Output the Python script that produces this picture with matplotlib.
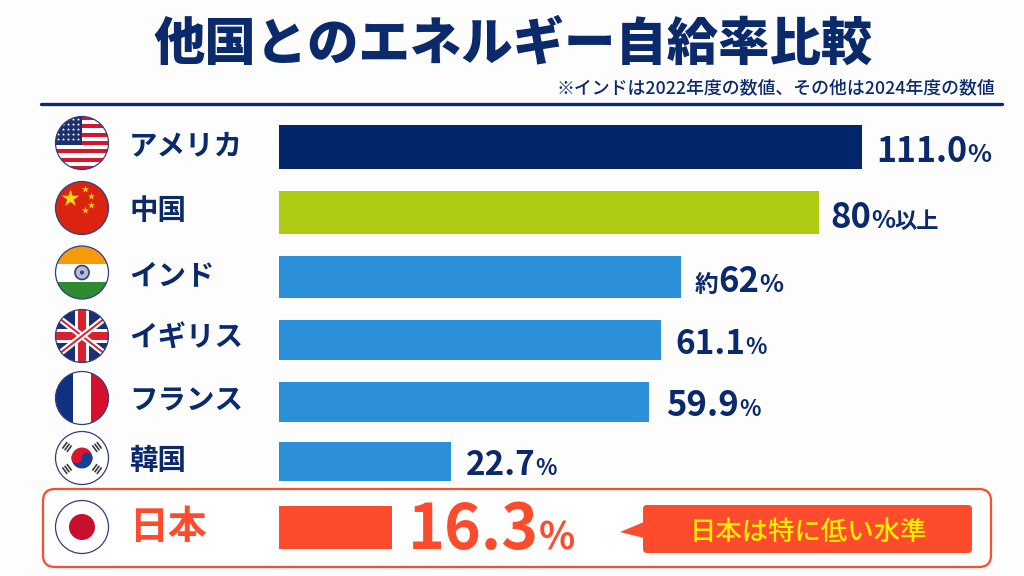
import numpy as np
import matplotlib
matplotlib.use('Agg')
import matplotlib.pyplot as plt
from matplotlib.patches import Circle, Rectangle, FancyBboxPatch, Polygon, Wedge

plt.rcParams['font.family'] = ['Noto Sans CJK JP', 'DejaVu Sans']

NAVY = '#0b2a6b'
BAR_NAVY = '#03266b'
GREEN = '#aecb12'
BLUE = '#2b90d9'
RED = '#fd4b2d'

title = '他国とのエネルギー自給率比較'
note = '※インドは2022年度の数値、その他は2024年度の数値'
countries = ['アメリカ', '中国', 'インド', 'イギリス', 'フランス', '韓国', '日本']
# bar lengths as drawn: the picture is not to scale with its labels (111.0 = 111)
bar_lengths = [111.0, 102.9, 76.6, 72.8, 70.5, 32.8, 21.5]
bar_colors = [BAR_NAVY, GREEN, BLUE, BLUE, BLUE, BLUE, RED]
value_labels = [
    [('111.0', 24.5), ('%', 18)],
    [('80', 25), ('%', 18), ('以上', 16)],
    [('約', 17), ('62', 25), ('%', 18)],
    [('61.1', 24), ('%', 16)],
    [('59.9', 25), ('%', 16)],
    [('22.7', 24), ('%', 16)],
    [('16.3', 45), ('%', 27)],
]
callout = '日本は特に低い水準'

row_y = [147, 212.5, 277, 340, 402, 461.5, 527.5]
row_h = [44, 43, 42, 40, 40, 39, 43]
flag_y = [143, 208, 272.5, 336, 398, 458, 527]
label_x = [876, 830, 695, 675, 666, 466, 408]
label_base = [162, 228, 292, 354, 416, 475, 549]

fig = plt.figure(figsize=(10.24, 5.76), dpi=100, facecolor='#fdfdfe')
bg = fig.add_axes([0, 0, 1, 1])
bg.set_xlim(0, 1024)
bg.set_ylim(576, 0)
bg.axis('off')


def flag_base(cy, r=26.5):
    return Circle((82, cy), r, transform=bg.transData, fc='none', ec='none')


def clipped(artist, clip):
    bg.add_artist(artist)
    artist.set_clip_path(clip)
    return artist


def ring(cy, r=26.5):
    bg.add_patch(Circle((82, cy), r, fc='none', ec='#2f3f7f', lw=0.9, zorder=6))


def usa(cy):
    clip = flag_base(cy)
    bg.add_patch(Circle((82, cy), 26.5, fc='white', ec='none'))
    for i in range(13):
        if i % 2 == 0:
            clipped(Rectangle((50, cy - 27 + i * 54 / 13), 64, 54 / 13, fc='#d3172f'), clip)
    clipped(Rectangle((50, cy - 27), 32, 29, fc='#1c2f6e'), clip)
    xs, ys = np.meshgrid(np.arange(58, 82, 5), np.arange(cy - 24, cy + 1, 5))
    clipped(bg.scatter(xs.ravel(), ys.ravel(), s=4, c='white', marker='*', lw=0), clip)
    ring(cy)


def china(cy):
    bg.add_patch(Circle((82, cy), 26.5, fc='#db2410', ec='none'))
    bg.scatter([70], [cy - 10], s=170, c='#fbd90a', marker='*', lw=0, zorder=3)
    bg.scatter([85, 91, 91, 85], [cy - 19, cy - 12, cy - 3, cy + 2], s=28, c='#fbd90a', marker='*', lw=0, zorder=3)
    ring(cy)


def india(cy):
    clip = flag_base(cy)
    clipped(Rectangle((50, cy - 27), 64, 18, fc='#f79a0b'), clip)
    clipped(Rectangle((50, cy - 9), 64, 18, fc='white'), clip)
    clipped(Rectangle((50, cy + 9), 64, 18, fc='#2e8b2f'), clip)
    bg.add_patch(Circle((82, cy), 7, fc='#b8bcd8', ec='#2f3f7f', lw=1.2, zorder=3))
    bg.add_patch(Circle((82, cy), 2, fc='#2f3f7f', ec='none', zorder=3))
    ring(cy)


def uk(cy):
    clip = flag_base(cy)
    bg.add_patch(Circle((82, cy), 26.5, fc='#1c2f76', ec='none'))
    for sign in (1, -1):
        line, = bg.plot([50, 114], [cy - 25 * sign, cy + 25 * sign], color='white', lw=4.5, solid_capstyle='butt')
        line.set_clip_path(clip)
        line, = bg.plot([50, 114], [cy - 25 * sign, cy + 25 * sign], color='#d8202f', lw=1.4, solid_capstyle='butt')
        line.set_clip_path(clip)
    clipped(Rectangle((50, cy - 7), 64, 14, fc='white'), clip)
    clipped(Rectangle((75, cy - 27), 14, 54, fc='white'), clip)
    clipped(Rectangle((50, cy - 4), 64, 8, fc='#d8202f'), clip)
    clipped(Rectangle((78, cy - 27), 8, 54, fc='#d8202f'), clip)
    ring(cy)


def france(cy):
    clip = flag_base(cy)
    clipped(Rectangle((50, cy - 27), 23, 54, fc='#11307f'), clip)
    clipped(Rectangle((73, cy - 27), 18, 54, fc='white'), clip)
    clipped(Rectangle((91, cy - 27), 23, 54, fc='#d80f2c'), clip)
    ring(cy)


def korea(cy):
    bg.add_patch(Circle((82, cy), 26.5, fc='white', ec='none'))
    bg.add_patch(Wedge((82, cy), 10.5, 180, 360, fc='#d6172f', ec='none', zorder=3))
    bg.add_patch(Wedge((82, cy), 10.5, 0, 180, fc='#17409a', ec='none', zorder=3))
    bg.add_patch(Circle((76.7, cy), 5.3, fc='#d6172f', ec='none', zorder=3))
    bg.add_patch(Circle((87.3, cy), 5.3, fc='#17409a', ec='none', zorder=3))
    for dx, dy in [(-15, -11), (15, -11), (-15, 11), (15, 11)]:
        for k in (-2.8, 0, 2.8):
            ux, uy = dx / 18.6, dy / 18.6
            cx, cyy = 82 + dx + ux * k, cy + dy + uy * k
            px, py = -uy * 4, ux * 4
            bg.plot([cx - px, cx + px], [cyy - py, cyy + py], color='#3a3a3a', lw=1.2, solid_capstyle='butt', zorder=3)
    ring(cy)


def japan(cy):
    bg.add_patch(Circle((82, cy), 26.5, fc='white', ec='none'))
    bg.add_patch(Circle((82, cy), 13, fc='#c8102e', ec='none', zorder=3))
    ring(cy)


def text_run(x, y, runs, color):
    # pieces of one label set one after the other, each at its own size
    renderer = fig.canvas.get_renderer()
    for s, size in runs:
        t = bg.text(x, y, s, fontsize=size, fontweight='bold', color=color, ha='left', va='baseline', zorder=8)
        x += t.get_window_extent(renderer).width


bg.text(513, 44, title, fontsize=37, fontweight='black', color=NAVY, ha='center', va='center')
bg.text(995, 88, note, fontsize=12.9, fontweight='medium', color=NAVY, ha='right', va='center')
bg.plot([41, 1002], [103.5, 103.5], color=NAVY, lw=2.4, solid_capstyle='round')

# frame round Japan
bg.add_patch(FancyBboxPatch((53, 499), 928, 58, boxstyle='round,pad=10,rounding_size=12', fc='white', ec=RED, lw=1.6, zorder=1))

for draw, cy in zip([usa, china, india, uk, france, korea, japan], flag_y):
    draw(cy)

for i, name in enumerate(countries):
    last = i == len(countries) - 1
    bg.text(129, row_y[i] - (0 if last else 1), name,
            fontsize=28 if last else 20.5, fontweight='bold',
            color=RED if last else NAVY, ha='left', va='center', zorder=8)
    text_run(label_x[i], label_base[i], value_labels[i], RED if last else NAVY)

# callout next to the Japan row
bg.add_patch(FancyBboxPatch((646, 508), 323, 42, boxstyle='round,pad=3,rounding_size=4', fc=RED, ec='none', zorder=3))
bg.add_patch(Polygon([(620, 532), (644, 522), (644, 538)], fc=RED, ec='none', zorder=3))
bg.text(808, 532.5, callout, fontsize=19, fontweight='medium', color='#ffee00', ha='center', va='center', zorder=8)

# bars, in their own axes: x in chart units, y shared with the pixel rows
ax = fig.add_axes([0, 0, 1, 1], facecolor='none')
ax.set_xlim(-279 / 5.25, (1024 - 279) / 5.25)
ax.set_ylim(576, 0)
ax.axis('off')
ax.barh(row_y, bar_lengths, height=row_h, color=bar_colors)

fig.savefig('out.png', dpi=100, facecolor=fig.get_facecolor())
